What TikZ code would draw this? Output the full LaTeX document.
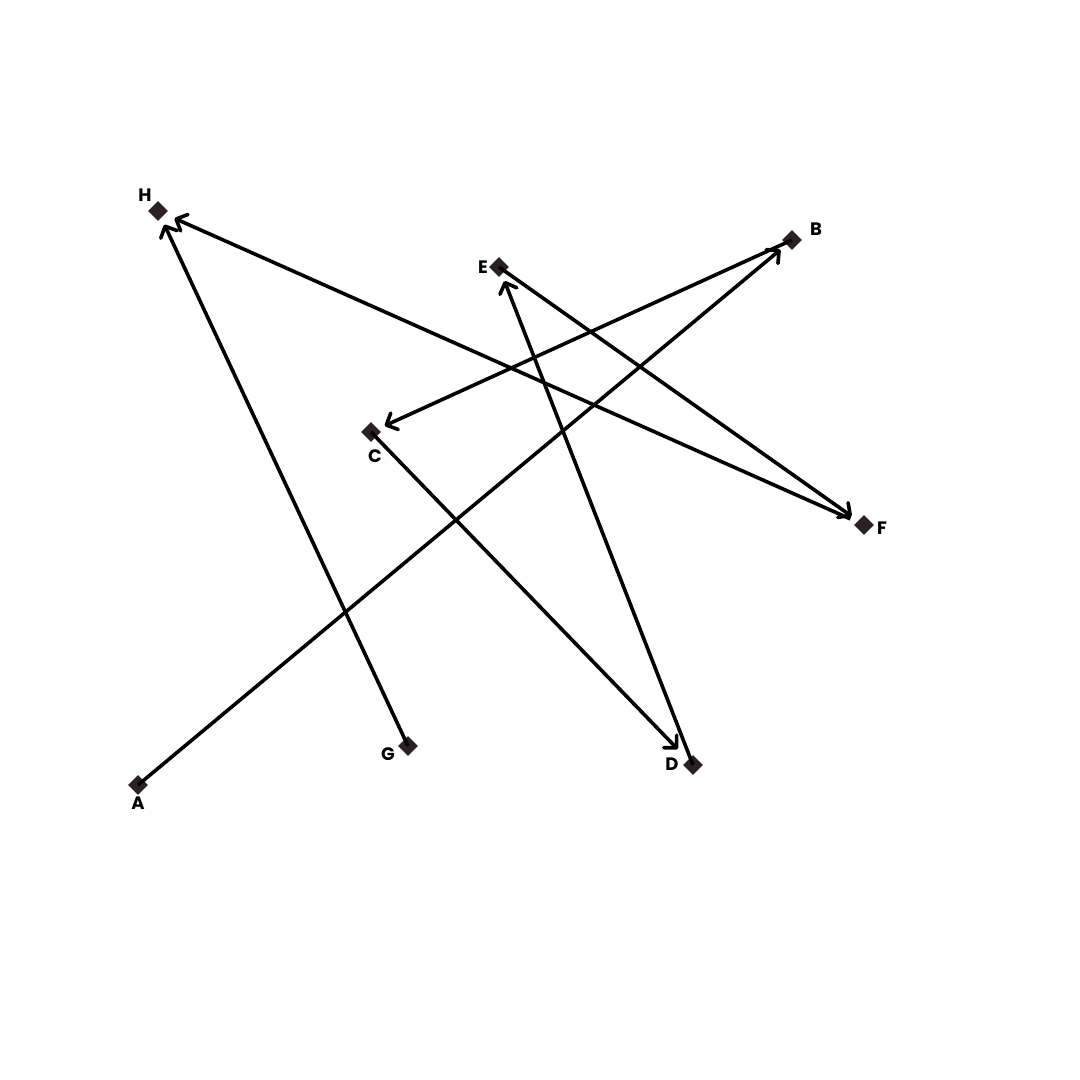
\documentclass[tikz,border=0pt]{standalone}
\usepackage{fontspec}
\setmainfont{Poppins}
\usetikzlibrary{shapes.geometric,arrows.meta}
\definecolor{markdark}{rgb}{0.17, 0.13, 0.14}

\begin{document}
\begin{tikzpicture}[x=1pt,y=-1pt,
    pt/.style={diamond,fill=markdark,inner sep=0pt,minimum size=20pt},
    lbl/.style={font=\bfseries\fontsize{18}{18}\selectfont,inner sep=1pt},
    link/.style={line width=3.6pt,-{Straight Barb[length=9pt,width=18pt,round]},shorten >=15pt}]
    \useasboundingbox (0,0) rectangle (1080,1080);
    % Points
    \node[pt] (A) at (138,785) {};
    \node[pt] (B) at (792,240) {};
    \node[pt] (C) at (371,432) {};
    \node[pt] (D) at (693,765) {};
    \node[pt] (E) at (499,267) {};
    \node[pt] (F) at (864,525) {};
    \node[pt] (G) at (408,746) {};
    \node[pt] (H) at (158,211) {};
    % Labels
    \node[lbl] (lA) at (138,803) {A};
    \node[lbl] (lB) at (816,229) {B};
    \node[lbl] (lC) at (375,456) {C};
    \node[lbl] (lD) at (672,764) {D};
    \node[lbl] (lE) at (483,267) {E};
    \node[lbl] (lF) at (882,528) {F};
    \node[lbl] (lG) at (388,754) {G};
    \node[lbl] (lH) at (145,195) {H};
    % Links
    \draw[link] (A.center) -- (B.center);
    \draw[link] (B.center) -- (C.center);
    \draw[link,shorten >=22pt] (C.center) -- (D.center);
    \draw[link] (D.center) -- (E.center);
    \draw[link] (E.center) -- (F.center);
    \draw[link,shorten <=15pt,shorten >=18pt] (F.center) -- (H.center);
    \draw[link] (G.center) -- (H.center);
\end{tikzpicture}
\end{document}
